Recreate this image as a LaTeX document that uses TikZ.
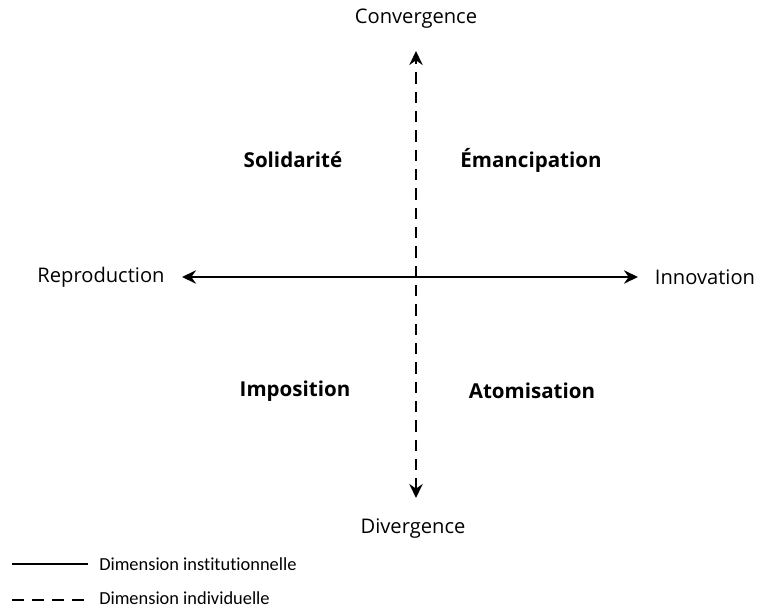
\documentclass[tikz,border=0pt]{standalone}
\usepackage{fontspec}
\setmainfont{Carlito}[Ligatures={NoCommon}]
\newfontfamily\labelfont{Open Sans}
\usetikzlibrary{arrows.meta}
\tikzset{
  axislabel/.style={font=\labelfont\fontsize{15.1}{18}\selectfont, inner sep=0pt},
  quadlabel/.style={font=\labelfont\fontsize{15.4}{18}\selectfont\bfseries, inner sep=0pt},
  legendlabel/.style={font=\fontsize{13.8}{16}\selectfont, inner sep=0pt, anchor=west},
  solidaxis/.style={line width=2.2pt, {Stealth[length=10.5pt,width=10pt,inset=3.5pt]}-{Stealth[length=10.5pt,width=10pt,inset=3.5pt]}},
  dashaxis/.style={line width=2.2pt, dash pattern=on 8.5pt off 6pt, {Stealth[length=10.5pt,width=10pt,inset=3.5pt]}-{Stealth[length=10.5pt,width=10pt,inset=3.5pt]}},
  legsolid/.style={line width=2.2pt},
  legdash/.style={line width=2.2pt, dash pattern=on 9pt off 6pt},
}
\begin{document}
\begin{tikzpicture}[x=0.75pt,y=-0.75pt]
\useasboundingbox (0,0) rectangle (767,607);
\node[axislabel] (conv) at (416,19) {Convergence};
\node[axislabel] (div) at (413,529) {Divergence};
\node[axislabel] (repr) at (101,277) {Reproduction};
\node[axislabel] (innov) at (705,277) {Innovation};
\coordinate (L) at (182,277);
\coordinate (R) at (638,277);
\coordinate (T) at (416,51);
\coordinate (B) at (416,498);
\draw[solidaxis] (L) -- (R);
\draw[dashaxis] (B) -- (T);
\node[quadlabel] (sol) at (293,160) {Solidarité};
\node[quadlabel] (ema) at (531,160) {Émancipation};
\node[quadlabel] (imp) at (295,391) {Imposition};
\node[quadlabel] (ato) at (532,391) {Atomisation};
\coordinate (l1a) at (12,564);
\coordinate (l1b) at (88,564);
\coordinate (l2a) at (12,600);
\coordinate (l2b) at (88,600);
\draw[legsolid] (l1a) -- (l1b);
\draw[legdash] (l2a) -- (l2b);
\node[legendlabel] (leg1) at (99,564) {Dimension institutionnelle};
\node[legendlabel] (leg2) at (99,598) {Dimension individuelle};
\end{tikzpicture}
\end{document}
